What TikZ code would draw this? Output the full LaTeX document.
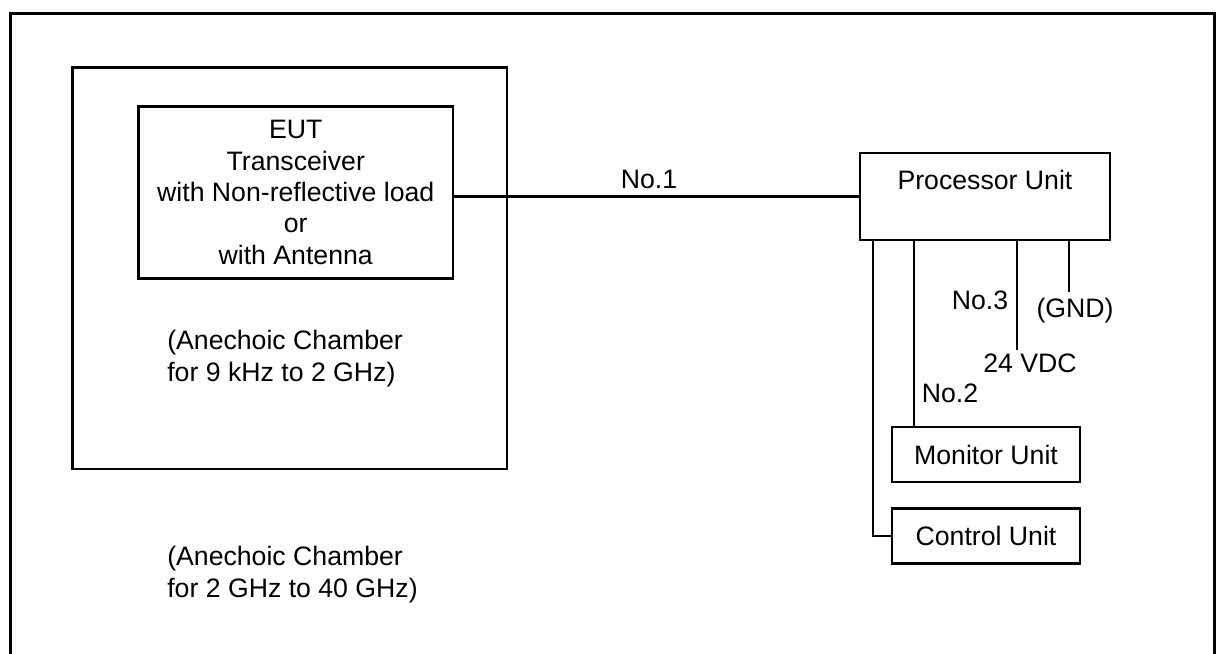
\documentclass[tikz,border=0pt]{standalone}
\usepackage{fontspec}
\setmainfont{Liberation Sans}
\usetikzlibrary{calc}
\tikzset{
  px/.style={x=0.75pt,y=-0.75pt},
  wire/.style={draw=black, line width=2.2pt},
  boxnode/.style={draw=black, line width=2.2pt, inner sep=0pt, rectangle},
  txt/.style={inner sep=0pt, font=\fontsize{20}{23.5}\selectfont},
}
\begin{document}
\begin{tikzpicture}[px]
\useasboundingbox (0,0) rectangle (1216,653);
% outer frame (open at bottom)
\coordinate (fbl) at (10.5,660);
\coordinate (ftl) at (10.5,13.5);
\coordinate (ftr) at (1214.5,13.5);
\coordinate (fbr) at (1214.5,660);
\draw[wire, line join=miter] (fbl) -- (ftl) -- (ftr) -- (fbr);
% chamber
\node[boxnode, minimum width=434.5*0.75pt, minimum height=401.5*0.75pt] (chamber) at (289.75,268.25) {};
% EUT
\node[boxnode, txt, align=center, minimum width=314.5*0.75pt, minimum height=172.7*0.75pt] (eut) at (295.75,192.4)
  {EUT\\Transceiver\\with Non-reflective load\\or\\with Antenna};
% processor
\node[boxnode, minimum width=250*0.75pt, minimum height=87*0.75pt] (proc) at (985,196.5) {};
\node[txt] (proclbl) at ([yshift=-21.5pt]proc.north) {Processor Unit};
% monitor and control
\node[boxnode, txt, minimum width=188*0.75pt, minimum height=55*0.75pt] (mon) at (986,454.5) {Monitor Unit};
\node[boxnode, txt, minimum width=188*0.75pt, minimum height=54.5*0.75pt] (ctl) at (986,536) {Control Unit};
% cable No.1
\draw[wire] (eut.east |- proc.west) -- (proc.west);
\node[txt] (no1) at (649,179) {No.1};
% wires from processor
\coordinate (x1) at (873,0);
\coordinate (x2) at (914,0);
\coordinate (w3end) at (1017,350);
\coordinate (gndend) at (1069,292);
\draw[wire, line join=miter] (x1 |- proc.south) -- (x1 |- ctl.west) -- (ctl.west);
\draw[wire] (x2 |- proc.south) -- (x2 |- mon.north);
\draw[wire] (w3end |- proc.south) -- (w3end);
\draw[wire] (gndend |- proc.south) -- (gndend);
\node[txt] (no3) at (980,300) {No.3};
\node[txt] (gnd) at (1075,311) {(GND)};
\node[txt] (vdc) at (1030,363) {24 VDC};
\node[txt] (no2) at (950,393) {No.2};
% chamber labels
\node[txt, align=left, anchor=west] (lab1) at (167,358.5) {(Anechoic Chamber\\for 9 kHz to 2 GHz)};
\node[txt, align=left, anchor=west] (lab2) at (167,574.5) {(Anechoic Chamber\\for 2 GHz to 40 GHz)};
\end{tikzpicture}
\end{document}
